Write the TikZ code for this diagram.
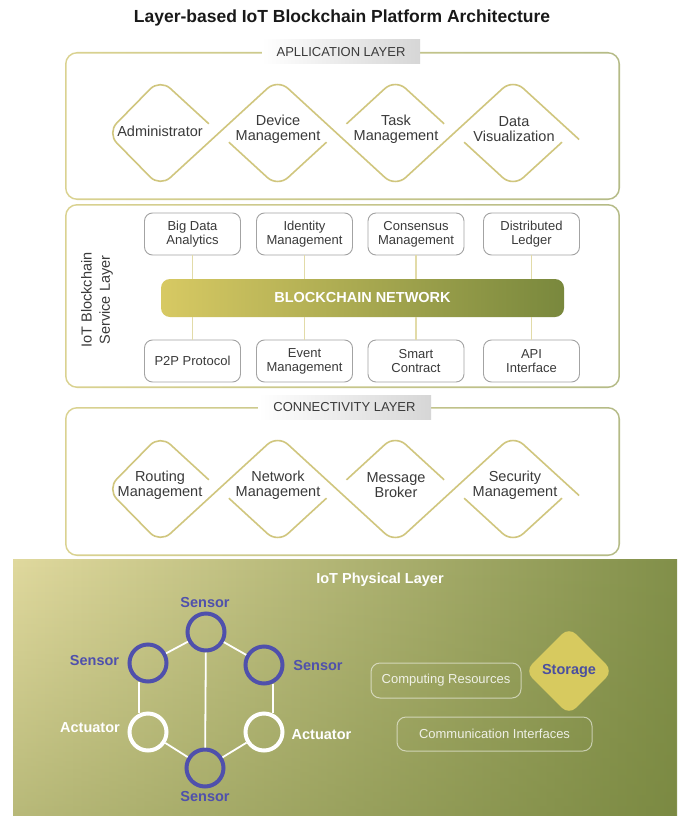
\documentclass[tikz,border=0pt]{standalone}
\usepackage{fontspec}
\setmainfont{Liberation Sans}
\usetikzlibrary{shapes.geometric,calc,fadings}

\definecolor{frameA}{HTML}{DAD290}
\definecolor{frameB}{HTML}{B5BB87}
\definecolor{weavec}{HTML}{D0C67E}
\definecolor{txt}{HTML}{3A3A3A}
\definecolor{boxline}{HTML}{A3A3A3}
\definecolor{linkc}{HTML}{E2DBA8}
\definecolor{hdrgrey}{HTML}{D6D6D6}
\definecolor{bcA}{HTML}{D7C963}
\definecolor{bcB}{HTML}{79883D}
\definecolor{physA}{HTML}{E0D99E}
\definecolor{physB}{HTML}{B4B36C}
\definecolor{physC}{HTML}{82904A}
\definecolor{physD}{HTML}{6E7E34}
\definecolor{sensorc}{HTML}{4F50AC}
\definecolor{storagec}{HTML}{D7CA5F}
\definecolor{storagetxt}{HTML}{4A4FA0}

% rounded layer frame with a left-to-right tinted outline
\newcommand\layerframe[4]{%
  \shade[left color=frameA, right color=frameB, rounded corners=12pt] (#1,#2) rectangle (#3,#4);
  \fill[white, rounded corners=10.5pt] ({#1+1.6},{#2+1.6}) rectangle ({#3-1.6},{#4-1.6});
}

% chain of four interlaced rounded diamonds centred on height #2
\newcommand\weavechain[2]{%
  \coordinate (#1T1) at (160,{#2-54});   \coordinate (#1B1) at (160,{#2+54});
  \coordinate (#1T2) at (277.7,{#2-54}); \coordinate (#1B2) at (277.7,{#2+54});
  \coordinate (#1T3) at (395.3,{#2-54}); \coordinate (#1B3) at (395.3,{#2+54});
  \coordinate (#1T4) at (513,{#2-54});   \coordinate (#1B4) at (513,{#2+54});
  \coordinate (#1L)  at (107,#2);
  \coordinate (#1C1) at (218.85,#2);
  \coordinate (#1C2) at (336.5,#2);
  \coordinate (#1C3) at (454.15,#2);
  \coordinate (#1C4) at (572,#2);
  % continuous zigzag
  \draw[weave] ($(#1T1)!0.83!(#1C1)$) -- (#1T1) -- (#1L) -- (#1B1) -- (#1T2)
     -- (#1B3) -- (#1T4) -- ($(#1T4)!1.12!(#1C4)$);
  % broken zigzag, interrupted at every crossing
  \draw[weave] ($(#1T1)!1.17!(#1C1)$) -- (#1B2) -- ($(#1B2)!0.83!(#1C2)$);
  \draw[weave] ($(#1B2)!1.17!(#1C2)$) -- (#1T3) -- ($(#1T3)!0.83!(#1C3)$);
  \draw[weave] ($(#1T3)!1.17!(#1C3)$) -- (#1B4) -- ($(#1B4)!0.83!(#1C4)$);
}

\begin{document}
\begin{tikzpicture}[x=1pt,y=-1pt,
  weave/.style={draw=weavec, line width=1.6pt, rounded corners=14pt},
  dtext/.style={text=txt, font=\fontsize{14.5}{15}\selectfont, align=center, inner sep=0pt},
  svcbox/.style={draw=boxline, fill=white, line width=0.9pt, rounded corners=8pt,
    minimum width=96pt, minimum height=42pt, align=center, text=txt,
    font=\fontsize{13}{14}\selectfont, inner sep=0pt},
  link/.style={draw=linkc, line width=1.6pt},
  hdr/.style={left color=white, right color=hdrgrey, minimum height=24pt, inner sep=0pt,
    text=txt, font=\fontsize{13}{14}\selectfont},
  bcbar/.style={left color=bcA, right color=bcB, rounded corners=9pt, minimum width=403pt,
    minimum height=38pt, inner sep=0pt, text=white, font=\bfseries\fontsize{14.5}{15}\selectfont},
  sensor/.style={circle, draw=sensorc, line width=4pt, minimum size=37pt, inner sep=0pt},
  actuator/.style={circle, draw=white, line width=4pt, minimum size=37pt, inner sep=0pt},
  slabel/.style={text=sensorc, font=\bfseries\fontsize{14.5}{15}\selectfont, inner sep=0pt},
  alabel/.style={text=white, font=\bfseries\fontsize{14.5}{15}\selectfont, inner sep=0pt},
  wire/.style={draw=white, line width=1.8pt},
  physbox/.style={draw=white, draw opacity=0.55, rounded corners=9pt, line width=1pt,
    text=white, text opacity=0.85, font=\fontsize{13}{14}\selectfont, inner sep=0pt},
]
\useasboundingbox (0,0) rectangle (681,816);
\fill[white] (0,0) rectangle (681,816);

% title
\node[font=\bfseries\fontsize{17.5}{20}\selectfont, text=black!90] (title) at (342,18)
  {Layer-based IoT Blockchain Platform Architecture};

% ---------- application layer ----------
\layerframe{65}{52}{620}{200}
\node[hdr, minimum width=158pt] (apphdr) at (341,52) {APLLICATION LAYER};
\weavechain{app}{133}
\node[dtext] (admin) at (160,131) {Administrator};
\node[dtext] (devmgmt) at (278,129) {Device\\Management};
\node[dtext] (taskmgmt) at (396,129) {Task\\Management};
\node[dtext] (datavis) at (514,129) {Data\\Visualization};

% ---------- blockchain service layer ----------
\layerframe{65}{204}{620}{388}
\node[dtext, rotate=90, font=\fontsize{14.5}{18}\selectfont] (svclabel) at (97,300)
  {IoT Blockchain\\Service Layer};
\node[bcbar] (bc) at (362.5,298) {BLOCKCHAIN NETWORK};
\node[svcbox] (bigdata)   at (192.5,234) {Big Data\\Analytics};
\node[svcbox] (identity)  at (304.5,234) {Identity\\Management};
\node[svcbox] (consensus) at (416,234)   {Consensus\\Management};
\node[svcbox] (ledger)    at (531.5,234) {Distributed\\Ledger};
\node[svcbox] (p2p)       at (192.5,361) {P2P Protocol};
\node[svcbox] (event)     at (304.5,361) {Event\\Management};
\node[svcbox] (smart)     at (416,361)   {Smart\\Contract};
\node[svcbox] (api)       at (531.5,361) {API\\Interface};
\foreach \n in {bigdata,identity,consensus,ledger}
  \draw[link] (\n.south) -- (\n.south |- bc.north);
\foreach \n in {p2p,event,smart,api}
  \draw[link] (\n.north) -- (\n.north |- bc.south);

% ---------- connectivity layer ----------
\layerframe{65}{407}{620}{556}
\node[hdr, minimum width=173pt] (conhdr) at (344.5,407.5) {CONNECTIVITY LAYER};
\weavechain{con}{489}
\node[dtext] (routing) at (160,485.5) {Routing\\Management};
\node[dtext] (netmgmt) at (278,485.5) {Network\\Management};
\node[dtext] (broker)  at (396,485.5) {Message\\Broker};
\node[dtext] (secmgmt) at (515,485.5) {Security\\Management};

% ---------- physical layer ----------
% light on the left, olive on the right, a little darker towards the bottom
\shade[left color=physA, middle color=physB, right color=physC]
  (13,559) rectangle (677,816);
\fill[physD, fill opacity=0.35, path fading=north] (13,559) rectangle (677,816);
\node[text=white, font=\bfseries\fontsize{14.5}{15}\selectfont] (phystitle) at (380,580)
  {IoT Physical Layer};

\node[sensor]   (s1) at (206,632) {};
\node[sensor]   (s2) at (148,663) {};
\node[sensor]   (s3) at (264,665) {};
\node[actuator] (a1) at (148,732) {};
\node[actuator] (a2) at (264,732) {};
\node[sensor]   (s4) at (205,768) {};

\draw[wire] (s1) -- (s2);
\draw[wire] (s1) -- (s3);
\draw[wire] (s1) -- (s4);
\draw[wire] (s2.-115) -- (a1.115);
\draw[wire] (s3.-65) -- (a2.65);
\draw[wire] (a1) -- (s4);
\draw[wire] (a2) -- (s4);

\node[slabel] (s1l) at (205,603) {Sensor};
\node[slabel] (s2l) at (94.5,660) {Sensor};
\node[slabel] (s3l) at (318,665) {Sensor};
\node[alabel] (a1l) at (90,728) {Actuator};
\node[alabel] (a2l) at (321.5,735) {Actuator};
\node[slabel] (s4l) at (205,796) {Sensor};

\node[physbox, minimum width=150pt, minimum height=35pt] (compute) at (446,680.5)
  {Computing Resources};
\node[physbox, minimum width=195pt, minimum height=34pt] (comm) at (494.5,734)
  {Communication Interfaces};
\node[diamond, fill=storagec, minimum width=88pt, minimum height=88pt, rounded corners=10pt,
  inner sep=0pt, text=storagetxt, font=\bfseries\fontsize{14.5}{15}\selectfont]
  (storage) at (569,671) {Storage};
\end{tikzpicture}
\end{document}
